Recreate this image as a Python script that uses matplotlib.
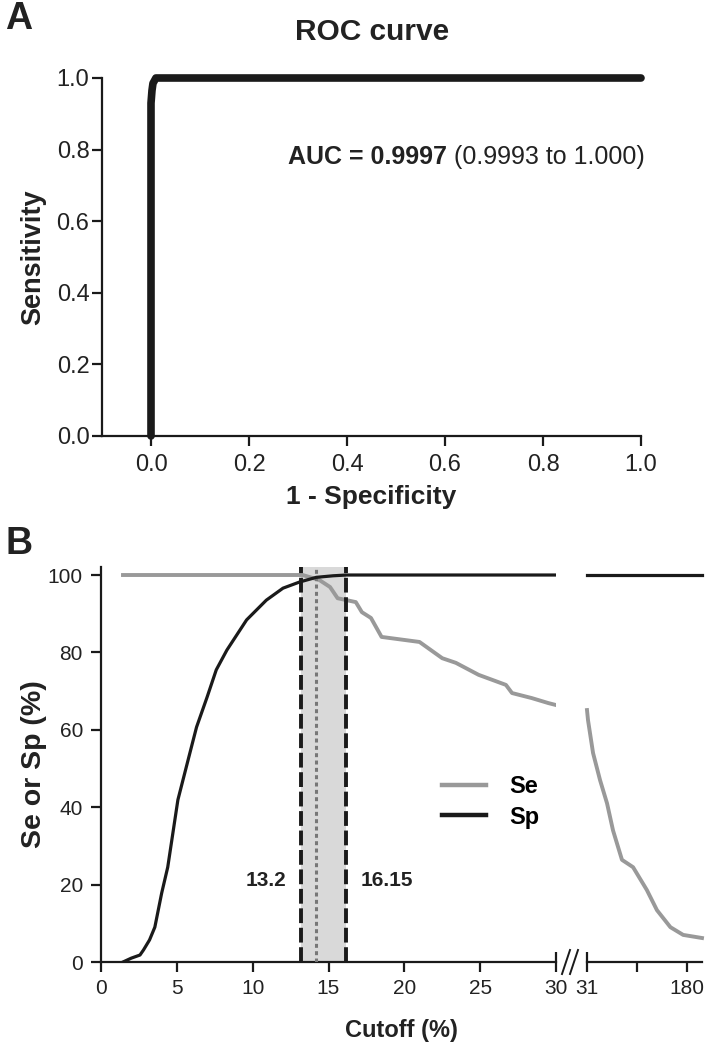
import numpy as np
import matplotlib
matplotlib.use("Agg")
import matplotlib.pyplot as plt
from matplotlib.lines import Line2D
from matplotlib.ticker import FormatStrFormatter

plt.rcParams['font.family'] = ['Liberation Sans', 'DejaVu Sans']

# ROC curve (panel A)
roc_fpr = [0.0, 0.0, 0.0, 0.0, 0.002, 0.004, 0.01, 0.2, 0.45, 0.7, 1.0]
roc_tpr = [0.0, 0.3, 0.6, 0.93, 0.965, 0.985, 1.0, 1.0, 1.0, 1.0, 1.0]

# Sensitivity / specificity vs cutoff (panel B, left part 0-30)
sp_x = [1.45, 2.0, 2.57, 2.8, 3.2, 3.55, 4.0, 4.4, 5.07, 5.86, 6.3, 7.0, 7.6, 8.3,
        9.6, 10.9, 12.0, 13.1, 14.2, 15.3, 16.2, 30.0]
sp_y = [0.0, 1.0, 1.8, 3.1, 5.7, 9.0, 17.8, 24.5, 41.9, 54.0, 60.7, 68.5, 75.5, 80.6,
        88.4, 93.5, 96.6, 98.2, 99.4, 99.8, 100.0, 100.0]
se_x = [1.45, 13.3, 14.4, 15.1, 15.6, 16.8, 17.2, 17.8, 18.5, 21.0, 22.5, 23.4, 24.9,
        26.7, 27.1, 28.4, 29.5, 30.0]
se_y = [100.0, 100.0, 98.7, 96.9, 94.0, 93.0, 90.4, 88.9, 84.0, 82.7, 78.5, 77.3, 74.2,
        71.6, 69.5, 68.2, 66.9, 66.4]

# right part of the broken axis (31-180+)
sp2_x = [31, 202]
sp2_y = [100, 100]
se2_x = [31.0, 32.5, 40.0, 50.4, 60.8, 69.7, 83.0, 99.5, 120.0, 135.0, 155.0, 174.0, 202.0]
se2_y = [65.1, 62.5, 54.0, 47.0, 41.0, 34.0, 26.4, 24.5, 18.6, 13.4, 9.0, 7.0, 6.2]

cut_low, cut_best, cut_high = 13.2, 14.2, 16.15

W, H = 712, 1049
fig = plt.figure(figsize=(W / 100, H / 100), dpi=100)

def frac(x0, y0, x1, y1):
    return [x0 / W, 1 - y1 / H, (x1 - x0) / W, (y1 - y0) / H]

dark = '#1a1a1a'
grey = '#999999'
txt = '#222222'

def style(ax, fs):
    for s in ['top', 'right']:
        ax.spines[s].set_visible(False)
    for s in ['left', 'bottom']:
        ax.spines[s].set_linewidth(1.6)
        ax.spines[s].set_color(dark)
    ax.tick_params(width=1.6, length=7, labelsize=fs, color=dark, labelcolor=txt)

# ---------- Panel A ----------
axA = fig.add_axes(frac(102, 78, 641, 436))
style(axA, 17)
axA.tick_params(axis='x', pad=6)
axA.tick_params(axis='y', pad=2)
axA.plot(roc_fpr, roc_tpr, color=dark, lw=5.5, solid_capstyle='round',
         solid_joinstyle='round', clip_on=False)
axA.set_xlim(-0.1, 1.0)
axA.set_ylim(0, 1.0)
axA.set_xticks(np.arange(0, 1.01, 0.2))
axA.set_yticks(np.arange(0, 1.01, 0.2))
axA.xaxis.set_major_formatter(FormatStrFormatter('%.1f'))
axA.yaxis.set_major_formatter(FormatStrFormatter('%.1f'))
axA.set_xlabel('1 - Specificity', fontsize=19, fontweight='bold', color=txt, va='top')
axA.xaxis.set_label_coords(0.5, -(485 - 436) / 358)
axA.set_ylabel('Sensitivity', fontsize=19.5, fontweight='bold', color=txt)
axA.yaxis.set_label_coords((46 - 102) / 539, 0.5)
fig.text(372 / W, 1 - 32 / H, 'ROC curve', fontsize=21.5, fontweight='bold',
         ha='center', va='center', color=txt)
t1 = axA.text(0.28, 0.78, 'AUC = 0.9997', fontsize=18, fontweight='bold',
              va='center', ha='left', color=txt)
axA.annotate(' (0.9993 to 1.000)', xy=(1, 0), xycoords=t1, va='bottom', ha='left',
             fontsize=18, color=txt)

# ---------- Panel B ----------
axL = fig.add_axes(frac(101, 567, 556, 962))
axR = fig.add_axes(frac(587, 567, 702, 962))
style(axL, 15)
style(axR, 15)
axL.tick_params(axis='x', pad=5)
axR.tick_params(axis='x', pad=5)
axL.tick_params(axis='y', pad=6)
axR.spines['left'].set_visible(False)
axR.tick_params(axis='y', left=False, labelleft=False)

ytop = 102.07
axL.axvspan(cut_low, cut_high, color='#d9d9d9', lw=0, zorder=0)
axL.axvline(cut_low, color=dark, lw=2.8, ls=(0, (3.8, 1.2)), zorder=3)
axL.axvline(cut_high, color=dark, lw=2.8, ls=(0, (3.8, 1.2)), zorder=3)
axL.axvline(cut_best, color='#777777', lw=2.2, ls=(0, (1.3, 1.1)), zorder=3)

axL.plot(se_x, se_y, color=grey, lw=2.8, zorder=2)
axL.plot(sp_x, sp_y, color=dark, lw=2.3, zorder=4)
axR.plot(se2_x, se2_y, color=grey, lw=2.8, clip_on=False)
axR.plot(sp2_x, sp2_y, color=dark, lw=2.3, clip_on=False)

axL.set_xlim(0, 30)
axL.set_ylim(0, ytop)
axR.set_xlim(31, 202)
axR.set_ylim(0, ytop)
axL.set_yticks([0, 20, 40, 60, 80, 100])
axL.set_xticks([0, 5, 10, 15, 20, 25])
axL.set_xticks([30], labels=['30'], minor=True)
axL.tick_params(axis='x', which='minor', direction='inout', length=14, width=1.6,
                labelsize=15, pad=5, color=dark, labelcolor=txt)
axR.set_xticks([180, 105.5], labels=['180', ''])
axR.set_xticks([31], labels=['31'], minor=True)
axR.tick_params(axis='x', which='minor', direction='inout', length=14, width=1.6,
                labelsize=15, pad=5, color=dark, labelcolor=txt)

axL.text(cut_low - 1.0, 21, '13.2', ha='right', va='center', fontsize=15,
         fontweight='bold', color=txt)
axL.text(cut_high + 1.0, 21, '16.15', ha='left', va='center', fontsize=15,
         fontweight='bold', color=txt)

axL.set_ylabel('Se or Sp (%)', fontsize=20.5, fontweight='bold', color=txt)
axL.yaxis.set_label_coords((47 - 101) / 455, 0.5)
fig.text(401 / W, 1 - 1030 / H, 'Cutoff (%)', ha='center', va='center',
         fontsize=17, fontweight='bold', color=txt)

handles = [Line2D([], [], color=grey, lw=3.2), Line2D([], [], color=dark, lw=3.2)]
axL.legend(handles, ['Se', 'Sp'], frameon=False, prop={'weight': 'bold', 'size': 17},
           loc='center left', bbox_to_anchor=(442 / W, 1 - 802 / H),
           bbox_transform=fig.transFigure, handlelength=1.85, handletextpad=1.0,
           labelspacing=0.3, borderpad=0, borderaxespad=0)

# break marks between the two x axis pieces
yb = 1 - 962 / H
for xc in (566, 574):
    fig.add_artist(Line2D([(xc - 4) / W, (xc + 4) / W], [yb - 12 / H, yb + 12 / H],
                          color=dark, lw=1.4))

# panel letters
fig.text(5 / W, 1 - 19 / H, 'A', fontsize=27, fontweight='bold', va='center', color=txt)
fig.text(5 / W, 1 - 544 / H, 'B', fontsize=27, fontweight='bold', va='center', color=txt)

fig.savefig('out.png', dpi=100)
